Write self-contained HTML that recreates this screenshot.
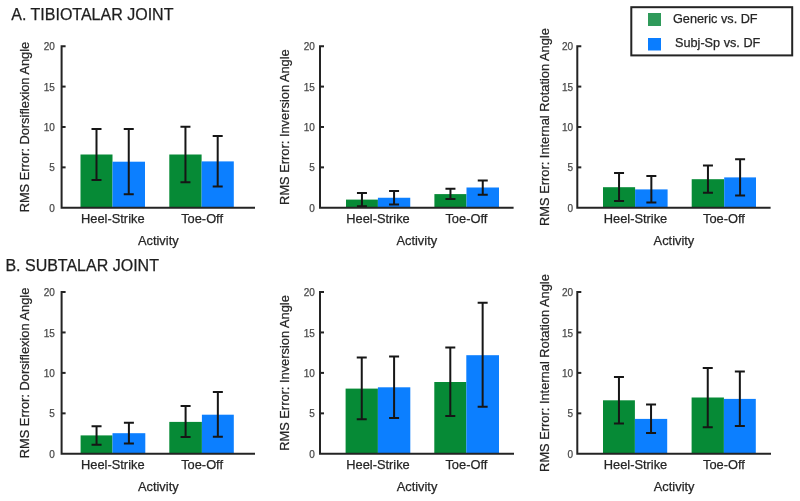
<!DOCTYPE html><html><head><meta charset="utf-8"><style>html,body{margin:0;padding:0;background:#fff;width:800px;height:501px;overflow:hidden}svg{display:block;will-change:transform}text{font-family:"Liberation Sans",sans-serif;stroke:currentColor;stroke-width:0.25px}</style></head><body>
<svg width="800" height="501" viewBox="0 0 800 501">
<rect width="800" height="501" fill="#fff"/>
<text x="11.3" y="19.5" font-size="16" fill="#1e1e1e" style="color:#1e1e1e">A. TIBIOTALAR JOINT</text>
<text x="5.4" y="271" font-size="16" fill="#1e1e1e" style="color:#1e1e1e">B. SUBTALAR JOINT</text>
<rect x="631.3" y="7.2" width="160.9" height="48.2" fill="none" stroke="#242424" stroke-width="2"/>
<rect x="648" y="13" width="13" height="13" fill="#2f9a5a"/>
<rect x="648" y="38" width="13" height="12.5" fill="#0a7dff"/>
<text x="673" y="22.8" font-size="12.7" fill="#262626" style="color:#262626">Generic vs. DF</text>
<text x="675" y="47.3" font-size="12.7" fill="#262626" style="color:#262626">Subj-Sp vs. DF</text>
<rect x="80.5" y="154.5" width="32.00" height="53.25" fill="#068a36"/>
<rect x="112.5" y="161.7" width="32.50" height="46.05" fill="#0c7fff"/>
<rect x="169.3" y="154.5" width="32.30" height="53.25" fill="#068a36"/>
<rect x="201.6" y="161.4" width="32.20" height="46.35" fill="#0c7fff"/>
<path d="M96.50 129V180M91.50 129H101.50M91.50 180H101.50" stroke="#161616" stroke-width="2" fill="none"/>
<path d="M128.75 129V194.2M123.75 129H133.75M123.75 194.2H133.75" stroke="#161616" stroke-width="2" fill="none"/>
<path d="M185.45 126.7V182.2M180.45 126.7H190.45M180.45 182.2H190.45" stroke="#161616" stroke-width="2" fill="none"/>
<path d="M217.70 136V186.4M212.70 136H222.70M212.70 186.4H222.70" stroke="#161616" stroke-width="2" fill="none"/>
<path d="M65.6 46.2H61.6V207.75H255" stroke="#242424" stroke-width="2" fill="none"/>
<path d="M61.6 167.36H65.6" stroke="#242424" stroke-width="2"/>
<path d="M61.6 126.97H65.6" stroke="#242424" stroke-width="2"/>
<path d="M61.6 86.59H65.6" stroke="#242424" stroke-width="2"/>
<text x="54.9" y="211.85" font-size="10" fill="#4a4a4a" style="color:#4a4a4a" text-anchor="end">0</text>
<text x="54.9" y="171.46" font-size="10" fill="#4a4a4a" style="color:#4a4a4a" text-anchor="end">5</text>
<text x="54.9" y="131.07" font-size="10" fill="#4a4a4a" style="color:#4a4a4a" text-anchor="end">10</text>
<text x="54.9" y="90.69" font-size="10" fill="#4a4a4a" style="color:#4a4a4a" text-anchor="end">15</text>
<text x="54.9" y="50.30" font-size="10" fill="#4a4a4a" style="color:#4a4a4a" text-anchor="end">20</text>
<text transform="translate(29.2 127.07) rotate(-90)" font-size="12.85" fill="#262626" style="color:#262626" text-anchor="middle">RMS Error: Dorsiflexion Angle</text>
<text x="112.8" y="222.90" font-size="12.85" fill="#262626" style="color:#262626" text-anchor="middle">Heel-Strike</text>
<text x="202.1" y="222.90" font-size="12.85" fill="#262626" style="color:#262626" text-anchor="middle">Toe-Off</text>
<text x="158.30" y="245.20" font-size="12.85" fill="#262626" style="color:#262626" text-anchor="middle">Activity</text>
<rect x="346" y="199.6" width="31.90" height="8.15" fill="#068a36"/>
<rect x="377.9" y="197.75" width="32.35" height="10.00" fill="#0c7fff"/>
<rect x="434.4" y="194.1" width="32.10" height="13.65" fill="#068a36"/>
<rect x="466.5" y="187.5" width="32.50" height="20.25" fill="#0c7fff"/>
<path d="M361.95 193.1V206.2M356.95 193.1H366.95M356.95 206.2H366.95" stroke="#161616" stroke-width="2" fill="none"/>
<path d="M394.07 191V204.4M389.07 191H399.07M389.07 204.4H399.07" stroke="#161616" stroke-width="2" fill="none"/>
<path d="M450.45 188.75V199M445.45 188.75H455.45M445.45 199H455.45" stroke="#161616" stroke-width="2" fill="none"/>
<path d="M482.75 180.4V194.75M477.75 180.4H487.75M477.75 194.75H487.75" stroke="#161616" stroke-width="2" fill="none"/>
<path d="M324 46.2H320V207.75H513.6" stroke="#242424" stroke-width="2" fill="none"/>
<path d="M320 167.36H324" stroke="#242424" stroke-width="2"/>
<path d="M320 126.97H324" stroke="#242424" stroke-width="2"/>
<path d="M320 86.59H324" stroke="#242424" stroke-width="2"/>
<text x="314.8" y="211.85" font-size="10" fill="#4a4a4a" style="color:#4a4a4a" text-anchor="end">0</text>
<text x="314.8" y="171.46" font-size="10" fill="#4a4a4a" style="color:#4a4a4a" text-anchor="end">5</text>
<text x="314.8" y="131.07" font-size="10" fill="#4a4a4a" style="color:#4a4a4a" text-anchor="end">10</text>
<text x="314.8" y="90.69" font-size="10" fill="#4a4a4a" style="color:#4a4a4a" text-anchor="end">15</text>
<text x="314.8" y="50.30" font-size="10" fill="#4a4a4a" style="color:#4a4a4a" text-anchor="end">20</text>
<text transform="translate(288.8 127.07) rotate(-90)" font-size="12.85" fill="#262626" style="color:#262626" text-anchor="middle">RMS Error: Inversion Angle</text>
<text x="378" y="222.90" font-size="12.85" fill="#262626" style="color:#262626" text-anchor="middle">Heel-Strike</text>
<text x="466.4" y="222.90" font-size="12.85" fill="#262626" style="color:#262626" text-anchor="middle">Toe-Off</text>
<text x="416.80" y="245.20" font-size="12.85" fill="#262626" style="color:#262626" text-anchor="middle">Activity</text>
<rect x="603" y="187.2" width="32.10" height="20.55" fill="#068a36"/>
<rect x="635.1" y="189.4" width="32.50" height="18.35" fill="#0c7fff"/>
<rect x="691.7" y="179.2" width="32.50" height="28.55" fill="#068a36"/>
<rect x="724.2" y="177.4" width="31.80" height="30.35" fill="#0c7fff"/>
<path d="M619.05 172.9V201.1M614.05 172.9H624.05M614.05 201.1H624.05" stroke="#161616" stroke-width="2" fill="none"/>
<path d="M651.35 175.9V202.6M646.35 175.9H656.35M646.35 202.6H656.35" stroke="#161616" stroke-width="2" fill="none"/>
<path d="M707.95 165.4V192.8M702.95 165.4H712.95M702.95 192.8H712.95" stroke="#161616" stroke-width="2" fill="none"/>
<path d="M740.10 159.2V195.4M735.10 159.2H745.10M735.10 195.4H745.10" stroke="#161616" stroke-width="2" fill="none"/>
<path d="M581.3 46.2H577.3V207.75H770.6" stroke="#242424" stroke-width="2" fill="none"/>
<path d="M577.3 167.36H581.3" stroke="#242424" stroke-width="2"/>
<path d="M577.3 126.97H581.3" stroke="#242424" stroke-width="2"/>
<path d="M577.3 86.59H581.3" stroke="#242424" stroke-width="2"/>
<text x="573" y="211.85" font-size="10" fill="#4a4a4a" style="color:#4a4a4a" text-anchor="end">0</text>
<text x="573" y="171.46" font-size="10" fill="#4a4a4a" style="color:#4a4a4a" text-anchor="end">5</text>
<text x="573" y="131.07" font-size="10" fill="#4a4a4a" style="color:#4a4a4a" text-anchor="end">10</text>
<text x="573" y="90.69" font-size="10" fill="#4a4a4a" style="color:#4a4a4a" text-anchor="end">15</text>
<text x="573" y="50.30" font-size="10" fill="#4a4a4a" style="color:#4a4a4a" text-anchor="end">20</text>
<text transform="translate(549.1 127.07) rotate(-90)" font-size="12.85" fill="#262626" style="color:#262626" text-anchor="middle">RMS Error: Internal Rotation Angle</text>
<text x="635.5" y="222.90" font-size="12.85" fill="#262626" style="color:#262626" text-anchor="middle">Heel-Strike</text>
<text x="724" y="222.90" font-size="12.85" fill="#262626" style="color:#262626" text-anchor="middle">Toe-Off</text>
<text x="673.95" y="245.20" font-size="12.85" fill="#262626" style="color:#262626" text-anchor="middle">Activity</text>
<rect x="80.6" y="435.4" width="31.90" height="18.40" fill="#068a36"/>
<rect x="112.5" y="433.2" width="32.80" height="20.60" fill="#0c7fff"/>
<rect x="169.3" y="421.9" width="32.60" height="31.90" fill="#068a36"/>
<rect x="201.9" y="414.7" width="31.90" height="39.10" fill="#0c7fff"/>
<path d="M96.55 426.3V444.7M91.55 426.3H101.55M91.55 444.7H101.55" stroke="#161616" stroke-width="2" fill="none"/>
<path d="M128.90 422.7V443.6M123.90 422.7H133.90M123.90 443.6H133.90" stroke="#161616" stroke-width="2" fill="none"/>
<path d="M185.60 405.9V437M180.60 405.9H190.60M180.60 437H190.60" stroke="#161616" stroke-width="2" fill="none"/>
<path d="M217.85 392V436.7M212.85 392H222.85M212.85 436.7H222.85" stroke="#161616" stroke-width="2" fill="none"/>
<path d="M65.6 292.0H61.6V453.8H255" stroke="#242424" stroke-width="2" fill="none"/>
<path d="M61.6 413.35H65.6" stroke="#242424" stroke-width="2"/>
<path d="M61.6 372.90H65.6" stroke="#242424" stroke-width="2"/>
<path d="M61.6 332.45H65.6" stroke="#242424" stroke-width="2"/>
<text x="54.9" y="457.90" font-size="10" fill="#4a4a4a" style="color:#4a4a4a" text-anchor="end">0</text>
<text x="54.9" y="417.45" font-size="10" fill="#4a4a4a" style="color:#4a4a4a" text-anchor="end">5</text>
<text x="54.9" y="377.00" font-size="10" fill="#4a4a4a" style="color:#4a4a4a" text-anchor="end">10</text>
<text x="54.9" y="336.55" font-size="10" fill="#4a4a4a" style="color:#4a4a4a" text-anchor="end">15</text>
<text x="54.9" y="296.10" font-size="10" fill="#4a4a4a" style="color:#4a4a4a" text-anchor="end">20</text>
<text transform="translate(29.2 373.00) rotate(-90)" font-size="12.85" fill="#262626" style="color:#262626" text-anchor="middle">RMS Error: Dorsiflexion Angle</text>
<text x="112.8" y="468.95" font-size="12.85" fill="#262626" style="color:#262626" text-anchor="middle">Heel-Strike</text>
<text x="202.1" y="468.95" font-size="12.85" fill="#262626" style="color:#262626" text-anchor="middle">Toe-Off</text>
<text x="158.30" y="491.25" font-size="12.85" fill="#262626" style="color:#262626" text-anchor="middle">Activity</text>
<rect x="345.6" y="388.6" width="32.30" height="65.20" fill="#068a36"/>
<rect x="377.9" y="387.3" width="32.40" height="66.50" fill="#0c7fff"/>
<rect x="434.3" y="382" width="32.00" height="71.80" fill="#068a36"/>
<rect x="466.3" y="355.2" width="32.70" height="98.60" fill="#0c7fff"/>
<path d="M361.75 357.5V419.3M356.75 357.5H366.75M356.75 419.3H366.75" stroke="#161616" stroke-width="2" fill="none"/>
<path d="M394.10 356.5V418M389.10 356.5H399.10M389.10 418H399.10" stroke="#161616" stroke-width="2" fill="none"/>
<path d="M450.30 347.4V416.1M445.30 347.4H455.30M445.30 416.1H455.30" stroke="#161616" stroke-width="2" fill="none"/>
<path d="M482.65 302.7V406.8M477.65 302.7H487.65M477.65 406.8H487.65" stroke="#161616" stroke-width="2" fill="none"/>
<path d="M324 292.0H320V453.8H514" stroke="#242424" stroke-width="2" fill="none"/>
<path d="M320 413.35H324" stroke="#242424" stroke-width="2"/>
<path d="M320 372.90H324" stroke="#242424" stroke-width="2"/>
<path d="M320 332.45H324" stroke="#242424" stroke-width="2"/>
<text x="314.8" y="457.90" font-size="10" fill="#4a4a4a" style="color:#4a4a4a" text-anchor="end">0</text>
<text x="314.8" y="417.45" font-size="10" fill="#4a4a4a" style="color:#4a4a4a" text-anchor="end">5</text>
<text x="314.8" y="377.00" font-size="10" fill="#4a4a4a" style="color:#4a4a4a" text-anchor="end">10</text>
<text x="314.8" y="336.55" font-size="10" fill="#4a4a4a" style="color:#4a4a4a" text-anchor="end">15</text>
<text x="314.8" y="296.10" font-size="10" fill="#4a4a4a" style="color:#4a4a4a" text-anchor="end">20</text>
<text transform="translate(288.8 373.00) rotate(-90)" font-size="12.85" fill="#262626" style="color:#262626" text-anchor="middle">RMS Error: Inversion Angle</text>
<text x="378" y="468.95" font-size="12.85" fill="#262626" style="color:#262626" text-anchor="middle">Heel-Strike</text>
<text x="466.4" y="468.95" font-size="12.85" fill="#262626" style="color:#262626" text-anchor="middle">Toe-Off</text>
<text x="417.00" y="491.25" font-size="12.85" fill="#262626" style="color:#262626" text-anchor="middle">Activity</text>
<rect x="603" y="400.3" width="31.90" height="53.50" fill="#068a36"/>
<rect x="634.9" y="418.9" width="32.30" height="34.90" fill="#0c7fff"/>
<rect x="691.6" y="397.5" width="32.30" height="56.30" fill="#068a36"/>
<rect x="723.9" y="398.9" width="31.90" height="54.90" fill="#0c7fff"/>
<path d="M618.95 377V423.5M613.95 377H623.95M613.95 423.5H623.95" stroke="#161616" stroke-width="2" fill="none"/>
<path d="M651.05 404.5V432.9M646.05 404.5H656.05M646.05 432.9H656.05" stroke="#161616" stroke-width="2" fill="none"/>
<path d="M707.75 368V427.3M702.75 368H712.75M702.75 427.3H712.75" stroke="#161616" stroke-width="2" fill="none"/>
<path d="M739.85 371.4V425.9M734.85 371.4H744.85M734.85 425.9H744.85" stroke="#161616" stroke-width="2" fill="none"/>
<path d="M581.3 292.0H577.3V453.8H771" stroke="#242424" stroke-width="2" fill="none"/>
<path d="M577.3 413.35H581.3" stroke="#242424" stroke-width="2"/>
<path d="M577.3 372.90H581.3" stroke="#242424" stroke-width="2"/>
<path d="M577.3 332.45H581.3" stroke="#242424" stroke-width="2"/>
<text x="573" y="457.90" font-size="10" fill="#4a4a4a" style="color:#4a4a4a" text-anchor="end">0</text>
<text x="573" y="417.45" font-size="10" fill="#4a4a4a" style="color:#4a4a4a" text-anchor="end">5</text>
<text x="573" y="377.00" font-size="10" fill="#4a4a4a" style="color:#4a4a4a" text-anchor="end">10</text>
<text x="573" y="336.55" font-size="10" fill="#4a4a4a" style="color:#4a4a4a" text-anchor="end">15</text>
<text x="573" y="296.10" font-size="10" fill="#4a4a4a" style="color:#4a4a4a" text-anchor="end">20</text>
<text transform="translate(549.1 373.00) rotate(-90)" font-size="12.85" fill="#262626" style="color:#262626" text-anchor="middle">RMS Error: Internal Rotation Angle</text>
<text x="635.5" y="468.95" font-size="12.85" fill="#262626" style="color:#262626" text-anchor="middle">Heel-Strike</text>
<text x="724" y="468.95" font-size="12.85" fill="#262626" style="color:#262626" text-anchor="middle">Toe-Off</text>
<text x="674.15" y="491.25" font-size="12.85" fill="#262626" style="color:#262626" text-anchor="middle">Activity</text>
</svg></body></html>
